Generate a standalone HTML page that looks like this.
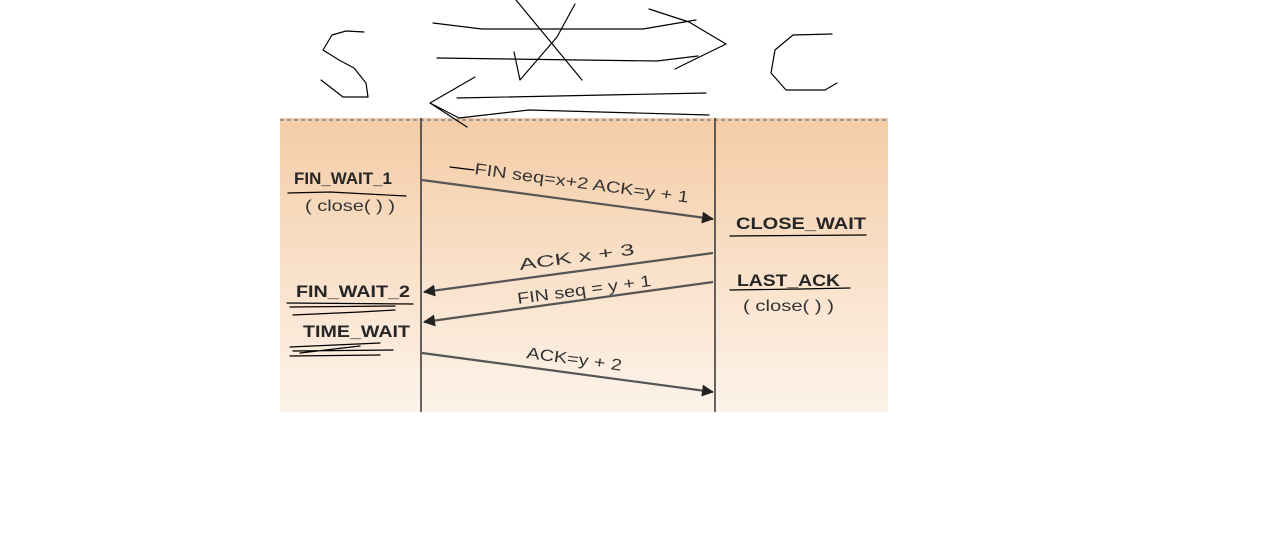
<!DOCTYPE html>
<html><head><meta charset="utf-8"><style>
html,body{margin:0;padding:0;background:#fff;width:1269px;height:540px;overflow:hidden}
svg{display:block}
text{font-family:"Liberation Sans",sans-serif;fill:#262626}
.st{font-weight:bold;font-size:16.5px}
.lb{font-size:16px;fill:#333}
.ink{fill:none;stroke:#000;stroke-width:1.2;stroke-linejoin:round;stroke-linecap:round}
</style></head><body>
<svg width="1269" height="540" viewBox="0 0 1269 540">
<defs>
<linearGradient id="bg" x1="0" y1="0" x2="0" y2="1">
<stop offset="0" stop-color="#f4cca6"/><stop offset="0.5" stop-color="#f9e0c8"/><stop offset="1" stop-color="#fdf3ea"/>
</linearGradient>
<marker id="ah" markerWidth="12" markerHeight="12" refX="11" refY="6" orient="auto" markerUnits="userSpaceOnUse">
<path d="M0,0 L12,6 L0,12 Z" fill="#222"/></marker>
</defs>
<rect x="280" y="118" width="608" height="294" fill="url(#bg)"/>
<line x1="280" y1="120" x2="888" y2="120" stroke="#999" stroke-width="2" stroke-dasharray="4,3"/>
<line x1="421" y1="118" x2="421" y2="412" stroke="#333" stroke-width="1.5"/>
<line x1="715" y1="118" x2="715" y2="412" stroke="#333" stroke-width="1.5"/>

<g stroke="#555" stroke-width="2.2" fill="none">
<line x1="422" y1="180" x2="713" y2="219" marker-end="url(#ah)"/>
<line x1="713" y1="253" x2="424" y2="292" marker-end="url(#ah)"/>
<line x1="713" y1="282" x2="424" y2="322" marker-end="url(#ah)"/>
<line x1="422" y1="353" x2="713" y2="392" marker-end="url(#ah)"/>
</g>

<text class="lb" transform="translate(474,174) rotate(7.6)" textLength="216" lengthAdjust="spacingAndGlyphs">FIN seq=x+2 ACK=y + 1</text>
<text class="lb" transform="translate(520,270) rotate(-7.7)" textLength="116" lengthAdjust="spacingAndGlyphs">ACK x + 3</text>
<text class="lb" transform="translate(518,304) rotate(-7.7)" textLength="135" lengthAdjust="spacingAndGlyphs">FIN seq = y + 1</text>
<text class="lb" transform="translate(526,358) rotate(7.6)" textLength="96" lengthAdjust="spacingAndGlyphs">ACK=y + 2</text>

<text class="st" x="294" y="184" textLength="98" lengthAdjust="spacingAndGlyphs">FIN_WAIT_1</text>
<text class="lb" x="305" y="211" textLength="90" lengthAdjust="spacingAndGlyphs">( close( ) )</text>
<text class="st" x="736" y="229" textLength="130" lengthAdjust="spacingAndGlyphs">CLOSE_WAIT</text>
<text class="st" x="737" y="286" textLength="103" lengthAdjust="spacingAndGlyphs">LAST_ACK</text>
<text class="lb" x="743" y="311" textLength="91" lengthAdjust="spacingAndGlyphs">( close( ) )</text>
<text class="st" x="296" y="297" textLength="114" lengthAdjust="spacingAndGlyphs">FIN_WAIT_2</text>
<text class="st" x="303" y="337" textLength="107" lengthAdjust="spacingAndGlyphs">TIME_WAIT</text>

<g>
<path class="ink" d="M450,167 L474,170"/>
<path class="ink" d="M288,193 L330,192 L406,196"/>
<path class="ink" d="M730,236 L866,235"/>
<path class="ink" d="M730,290 L800,289 L850,288"/>
<path class="ink" d="M287,303 L413,304 M290,307 L395,306 M293,315 L360,312 L395,310"/>
<path class="ink" d="M290,347 L380,343 M293,351 L393,350 M290,356 L380,355 M300,353 L360,346"/>
<path class="ink" d="M364,32 L346,31 L332,35 L323,50 L339,60 L354,68 L366,83 L368,97 L343,97 L321,80"/>
<path class="ink" d="M433,23 L482,29 L643,29 L696,20"/>
<path class="ink" d="M437,58 L657,61 L698,56"/>
<path class="ink" d="M649,9 L689,22 L726,44 L675,69"/>
<path class="ink" d="M516,0 L582,80"/>
<path class="ink" d="M575,4 L557,37 L520,80 L514,52"/>
<path class="ink" d="M457,98 L706,93"/>
<path class="ink" d="M459,118 L529,110 L709,115"/>
<path class="ink" d="M475,77 L430,103 L467,127 M430,103 L459,118"/>
<path class="ink" d="M832,34 L793,35 L775,50 L771,73 L786,90 L825,90 L837,83"/>
</g>
</svg>
</body></html>
